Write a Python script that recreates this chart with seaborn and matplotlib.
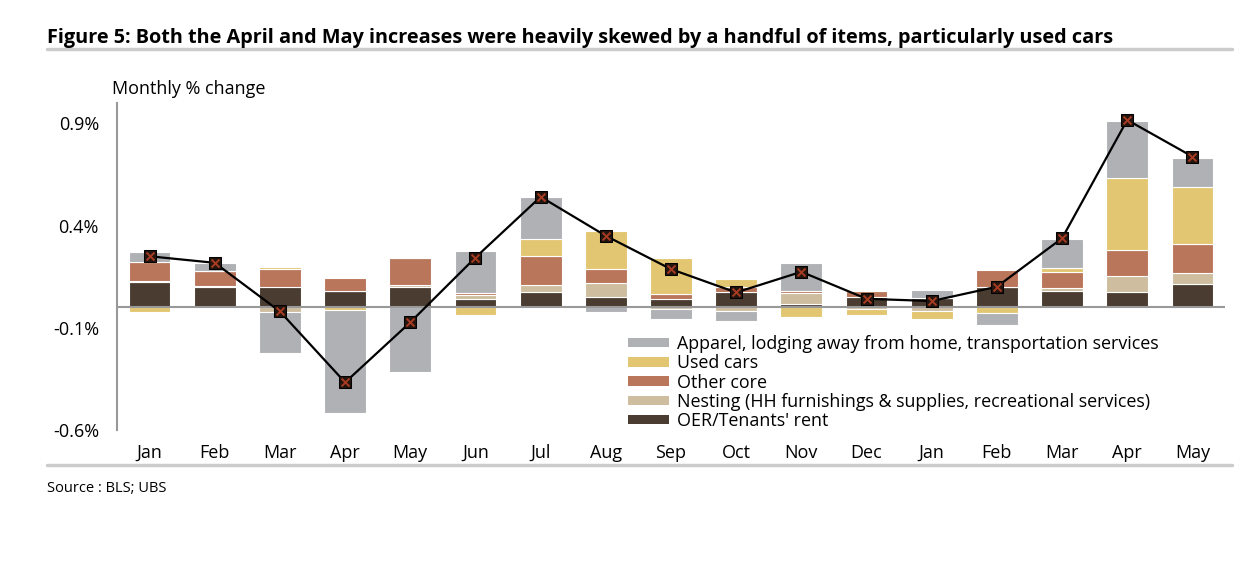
import numpy as np
import pandas as pd
import seaborn as sns
import matplotlib.pyplot as plt
from matplotlib.patches import Patch
from matplotlib.lines import Line2D

sns.set_style("white")
plt.rcParams["font.family"] = ["Open Sans", "DejaVu Sans"]

# monthly contributions to core CPI, % m/m (Jan 2020 .. May 2021)
months = ["Jan", "Feb", "Mar", "Apr", "May", "Jun", "Jul", "Aug", "Sep",
          "Oct", "Nov", "Dec", "Jan", "Feb", "Mar", "Apr", "May"]
oer = [0.125, 0.100, 0.102, 0.078, 0.099, 0.042, 0.076, 0.049, 0.042,
       0.076, 0.018, 0.049, 0.047, 0.098, 0.080, 0.076, 0.114]
nesting = [0.003, 0.004, -0.024, 0.004, 0.012, 0.020, 0.033, 0.071, -0.010,
           -0.018, 0.050, -0.006, -0.018, 0.0, 0.014, 0.077, 0.055]
other_core = [0.094, 0.076, 0.085, 0.064, 0.130, 0.008, 0.140, 0.070, 0.023,
              0.025, 0.013, 0.032, 0.0, 0.086, 0.078, 0.127, 0.140]
used_cars = [-0.023, 0.0, 0.013, -0.011, 0.0, -0.039, 0.088, 0.182, 0.179,
             0.039, -0.046, -0.029, -0.039, -0.029, 0.020, 0.351, 0.278]
apparel = [0.048, 0.038, -0.199, -0.504, -0.317, 0.208, 0.201, -0.024, -0.047,
           -0.049, 0.137, 0.0, 0.036, -0.057, 0.143, 0.280, 0.145]
core = [0.25, 0.218, -0.02, -0.367, -0.073, 0.244, 0.541, 0.35, 0.187,
        0.073, 0.174, 0.042, 0.031, 0.101, 0.338, 0.917, 0.738]

series = [
    ("OER/Tenants' rent", oer, "#4a3c30"),
    ("Nesting (HH furnishings & supplies, recreational services)", nesting, "#cebd9f"),
    ("Other core", other_core, "#b9765b"),
    ("Used cars", used_cars, "#e3c672"),
    ("Apparel, lodging away from home, transportation services", apparel, "#b0b1b5"),
]

fig = plt.figure(figsize=(12.6, 5.7), dpi=100)
ax = fig.add_axes([117 / 1260, 1 - 430 / 570, (1225 - 117) / 1260, 327 / 570])

pos = np.arange(len(months))
pos_bottom = np.zeros(len(months))
neg_bottom = np.zeros(len(months))
for name, vals, col in series:
    vals = np.array(vals)
    bottom = np.where(vals >= 0, pos_bottom, neg_bottom)
    sns.barplot(x=pos, y=vals, bottom=bottom, color=col, saturation=1,
                width=0.64, errorbar=None, edgecolor="white", linewidth=0.8,
                ax=ax, zorder=2)
    pos_bottom += np.where(vals >= 0, vals, 0)
    neg_bottom += np.where(vals < 0, vals, 0)

ax.axhline(0, color="#999999", lw=1.5, zorder=3)

sns.lineplot(x=pos, y=core, color="black", lw=1.6, marker="s", markersize=8.5,
             markerfacecolor="#24150f", markeredgecolor="black", ax=ax, zorder=4)
ax.scatter(pos, core, marker="x", s=32, color="#a83c22", linewidths=1.4, zorder=5)

ax.set_xlim(-0.5, len(months) - 0.5)
ax.set_ylim(-0.6, 1.0)
ax.set_yticks([0.9, 0.4, -0.1, -0.6])
ax.set_yticklabels(["0.9%", "0.4%", "-0.1%", "-0.6%"])
ax.set_xticks(pos)
ax.set_xticklabels(months)
ax.tick_params(axis="y", length=0, pad=13, labelsize=13, labelcolor="black")
ax.tick_params(axis="x", length=0, pad=10, labelsize=13, labelcolor="black")
ax.set_xlabel("")
ax.set_ylabel("")
for s in ["top", "right", "bottom"]:
    ax.spines[s].set_visible(False)
ax.spines["left"].set_color("#999999")
ax.spines["left"].set_linewidth(1.5)

handles = [Patch(facecolor=c, edgecolor="none", label=n) for n, v, c in series[::-1]]
fig.legend(handles=handles, loc="upper left", bbox_to_anchor=(628 / 1260, 1 - 335 / 570),
           frameon=False, fontsize=12.9, handlelength=2.3, handleheight=0.45,
           handletextpad=0.45, labelspacing=0.07, borderpad=0, borderaxespad=0,
           labelcolor="black")

fig.text(47 / 1260, 1 - 38 / 570,
         "Figure 5: Both the April and May increases were heavily skewed by a handful of items, particularly used cars",
         fontsize=14.3, fontweight="bold", va="center", ha="left", color="black")
fig.text(112 / 1260, 1 - 89 / 570, "Monthly % change", fontsize=13, va="center", ha="left",
         color="black")
fig.text(47 / 1260, 1 - 488 / 570, "Source : BLS; UBS", fontsize=10.5, va="center", ha="left",
         color="black")

fig.add_artist(Line2D([47 / 1260, 1232 / 1260], [1 - 49 / 570] * 2, color="#cccccc", lw=2.5))
fig.add_artist(Line2D([47 / 1260, 1232 / 1260], [1 - 465 / 570] * 2, color="#cccccc", lw=2.5))

fig.savefig("out.png", dpi=100)
